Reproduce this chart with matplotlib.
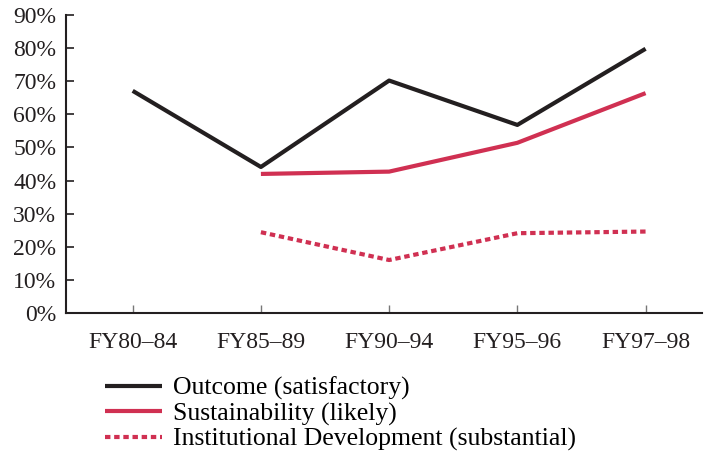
import numpy as np
import matplotlib
matplotlib.use("Agg")
import matplotlib.pyplot as plt

periods = ["FY80\u201384", "FY85\u201389", "FY90\u201394", "FY95\u201396", "FY97\u201398"]
outcome = [67.1, 44.1, 70.2, 56.8, 79.8]
sustainability = [np.nan, 42.0, 42.7, 51.4, 66.4]
institutional = [np.nan, 24.4, 16.0, 24.1, 24.6]

plt.rcParams["font.family"] = ["Liberation Serif", "DejaVu Serif"]

black = "#231f20"
red = "#d03052"

fig = plt.figure(figsize=(7.06, 4.54), dpi=100)
ax = fig.add_axes([66 / 706, 1 - 313 / 454, (702 - 66) / 706, (313 - 15) / 454])

x = np.arange(len(periods))
ax.plot(x, outcome, color=black, lw=3, solid_capstyle="butt", label="Outcome (satisfactory)")
ax.plot(x, sustainability, color=red, lw=3, solid_capstyle="butt", label="Sustainability (likely)")
ax.plot(x, institutional, color=red, lw=3, linestyle=(0, (1.3, 0.9)), dash_capstyle="butt",
        label="Institutional Development (substantial)")

ax.set_xlim(-0.52, 4.44)
ax.set_ylim(0, 90)
ax.set_yticks(np.arange(0, 91, 10))
ax.set_yticklabels([f"{v}%" for v in range(0, 91, 10)])
ax.set_xticks(x)
ax.set_xticklabels(periods)

for s in ["top", "right"]:
    ax.spines[s].set_visible(False)
for s in ["left", "bottom"]:
    ax.spines[s].set_linewidth(1.5)
    ax.spines[s].set_color(black)

ax.tick_params(axis="y", direction="in", length=6, width=1.2, colors=black, labelsize=17, pad=7)
ax.tick_params(axis="x", direction="in", length=6, width=1, color="#777777", labelcolor=black,
               labelsize=17, pad=14)

fig.legend(loc="upper left", bbox_to_anchor=(105 / 706, 1 - 377 / 454), frameon=False,
           fontsize=18.5, handlelength=2.2, handletextpad=0.45, labelspacing=0.08,
           borderaxespad=0, borderpad=0)

fig.savefig("out.png", dpi=100)
